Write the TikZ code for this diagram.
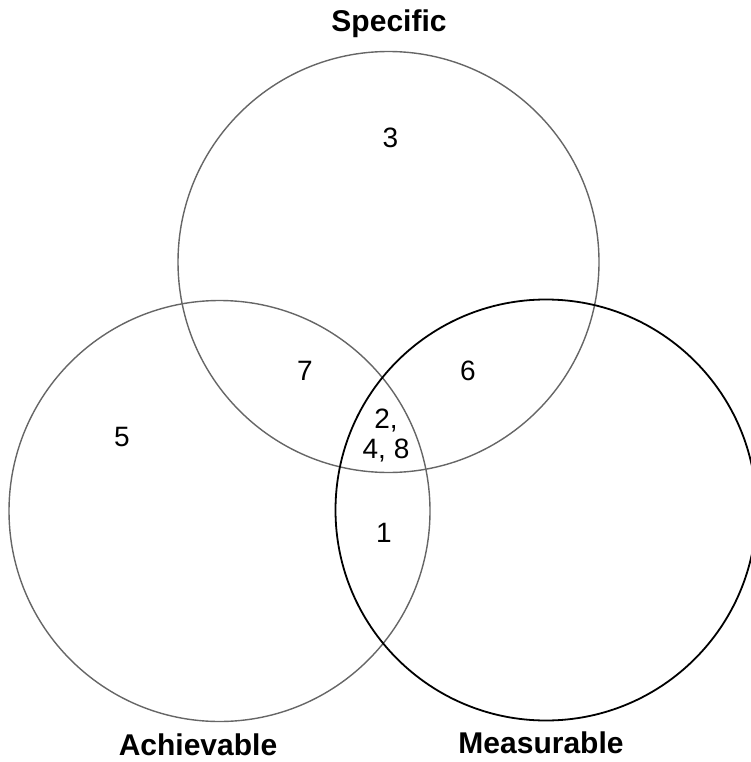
\documentclass[tikz,border=0pt]{standalone}
\usepackage{fontspec}
\setmainfont{Liberation Sans}
\begin{document}
\begin{tikzpicture}[x=1pt,y=-1pt,
  setcircle/.style={circle, inner sep=0pt, minimum size=421pt},
  graycirc/.style={setcircle, draw=black!60, line width=1.4pt},
  blackcirc/.style={setcircle, draw=black, line width=1.8pt},
  setlabel/.style={font=\fontsize{30}{34}\selectfont\bfseries, inner sep=0pt},
  num/.style={font=\fontsize{28}{30}\selectfont, inner sep=0pt, align=center}]
\useasboundingbox (0,0) rectangle (751,762);
\node[graycirc] (spec) at (388.5,262) {};
\node[graycirc] (ach) at (219.5,511) {};
\node[blackcirc] (meas) at (546,510) {};
\node[setlabel] (lspec) at (389,24) {Specific};
\node[setlabel] (lach) at (198,745) {Achievable};
\node[setlabel] (lmeas) at (541,743) {Measurable};
\node[num] (n3) at (390.5,138) {3};
\node[num] (n7) at (305,371) {7};
\node[num] (n6) at (468,371) {6};
\node[num] (n5) at (122,437) {5};
\node[num] (n248) at (386,436) {2,\\4, 8};
\node[num] (n1) at (384,533) {1};
\end{tikzpicture}
\end{document}
